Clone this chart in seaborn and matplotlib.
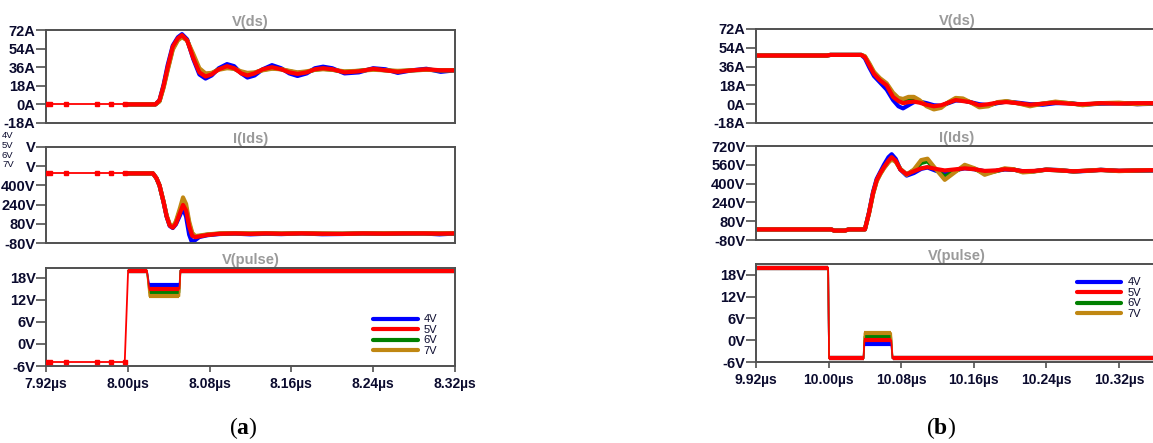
import numpy as np
import pandas as pd
import matplotlib
matplotlib.use("Agg")
import matplotlib.pyplot as plt
from matplotlib.lines import Line2D
import seaborn as sns

sns.set_theme(style="white")
plt.rcParams["font.family"] = ["Liberation Sans", "DejaVu Sans"]
plt.rcParams["mathtext.fontset"] = "custom"
plt.rcParams["mathtext.rm"] = "Liberation Serif"
plt.rcParams["mathtext.bf"] = "Liberation Serif:bold"

# ---------------------------------------------------------------- series
GATE_LEVELS = ["4V", "5V", "6V", "7V"]
GATE_COLORS = ["#0000ff", "#ff0000", "#008000", "#c08712"]

# ---- (a) turn-on transient
A_XTICKS = [7.92, 8.00, 8.08, 8.16, 8.24, 8.32]
A_XLABELS = ["7.92µs", "8.00µs", "8.08µs", "8.16µs", "8.24µs", "8.32µs"]

A_LEAD_T = [7.920, 7.924, 7.940, 7.970, 7.984, 7.997]
A_LEAD_VDS = [0, 0, 0, 0, 0, 0]
A_LEAD_IDS = [500, 500, 500, 500, 500, 500]
A_LEAD_PULSE = [-5, -5, -5, -5, -5, -5]
A_EDGE_T = [7.997, 8.0003]
A_EDGE_PULSE = [-5, 20]

A_VDS_T = [7.997, 8.027, 8.031, 8.035, 8.039, 8.044, 8.049, 8.053, 8.058, 8.064,
           8.070, 8.076, 8.082, 8.089, 8.097, 8.104, 8.111, 8.117, 8.124, 8.132,
           8.141, 8.150, 8.158, 8.166, 8.175, 8.183, 8.191, 8.200, 8.212, 8.226,
           8.240, 8.252, 8.264, 8.278, 8.292, 8.306, 8.320]
A_VDS_4V = [0, 0, 4, 19, 38, 57, 65, 68, 63, 44,
            29, 25, 28, 35, 39, 37, 30, 26, 28, 34,
            38, 35, 30, 27.5, 30, 35, 36.5, 35, 30, 31,
            35, 34, 30.5, 33, 34.5, 31.5, 33]
A_VDS_5V = [0, 0, 4, 18, 36, 56, 64, 67, 62, 45,
            31, 27, 29, 34, 37, 35, 30, 28, 30, 34,
            36, 34, 31, 29.5, 31, 34, 35, 34, 31, 32,
            34.5, 33, 31.5, 33, 34, 33, 33]
A_VDS_6V = [0, 0, 3, 17, 34, 54, 63, 66, 62, 47,
            33, 28.5, 30, 34, 36, 34.5, 31, 29.5, 30.5, 33.5,
            35, 34, 32, 30.5, 31.5, 33.5, 34.5, 33.5, 31.5, 32.5,
            34, 33, 32, 33, 33.5, 33, 33]
A_VDS_7V = [0, 0, 3, 16, 33, 53, 62, 65, 62, 49,
            35, 30, 30.5, 33.5, 35, 34.5, 32, 30.5, 31, 33,
            34.5, 34, 32.5, 31, 32, 33.5, 34, 33.5, 32, 32.5,
            33.5, 33, 32.5, 33, 33.5, 33, 33]

A_IDS_T = [7.997, 8.0246, 8.028, 8.031, 8.035, 8.038, 8.041, 8.044, 8.047, 8.051,
           8.054, 8.057, 8.060, 8.063, 8.066, 8.070, 8.078, 8.090, 8.105, 8.120,
           8.135, 8.150, 8.170, 8.190, 8.210, 8.230, 8.250, 8.270, 8.290, 8.305,
           8.320]
A_IDS_4V = [500, 500, 460, 400, 260, 140, 62, 45, 75, 150,
            210, 140, -10, -80, -55, -30, -15, -5, -2, -8,
            -3, -6, 0, -7, -5, -1, -4, -2, -1, -8,
            -1]
A_IDS_5V = [500, 500, 460, 400, 260, 140, 65, 48, 80, 170,
            237, 190, 60, -20, -32, -25, -13, -3, 0, -4,
            0, -3, 0, -3, -4, 0, -2, 0, 0, -2,
            0]
A_IDS_6V = [500, 500, 460, 400, 262, 145, 70, 52, 90, 190,
            265, 215, 80, -5, -28, -22, -10, -2, 1, -2,
            1, -2, 1, -2, -3, 0, -1, 0, 0, -1,
            0]
A_IDS_7V = [500, 500, 462, 402, 265, 150, 75, 55, 100, 210,
            300, 245, 100, 5, -22, -18, -8, 0, 2, 0,
            2, -1, 2, -1, -2, 1, 0, 1, 1, 0,
            1]

A_PULSE_T = [8.0003, 8.0187, 8.0210, 8.0505, 8.0515, 8.320]
A_PULSE_4V = [20, 20, 16, 16, 20, 20]
A_PULSE_5V = [20, 20, 15, 15, 20, 20]
A_PULSE_6V = [20, 20, 14, 14, 20, 20]
A_PULSE_7V = [20, 20, 13, 13, 20, 20]

# ---- (b) turn-off transient
B_XTICKS = [9.92, 10.00, 10.08, 10.16, 10.24, 10.32]
B_XLABELS = ["9.92µs", "10.00µs", "10.08µs", "10.16µs", "10.24µs", "10.32µs"]

B_VDS_T = [9.920, 9.998, 10.002, 10.036, 10.040, 10.045, 10.050, 10.0565, 10.064, 10.071,
           10.077, 10.082, 10.088, 10.094, 10.100, 10.108, 10.116, 10.124, 10.132, 10.140,
           10.148, 10.156, 10.166, 10.176, 10.186, 10.196, 10.208, 10.222, 10.236, 10.250,
           10.265, 10.280, 10.300, 10.320, 10.340, 10.363]
B_VDS_4V = [46.6, 46.6, 47.2, 47.2, 44, 35, 27, 21, 14, 4,
            -2, -4, -1, 2, 2.5, 1, -1, -1.5, 1, 3.5,
            3.5, 2, 0, -1, 1, 2.5, 1.5, 0, -0.5, 1,
            1, -0.5, 0.5, 1, 0, 0.5]
B_VDS_5V = [46.6, 46.6, 47.2, 47.2, 45, 37, 29, 23, 18, 7,
            3, 1, 2, 2.5, 1.5, -0.5, -2, -1, 1.5, 4,
            3, 2, -1, 0, 1.5, 2, 1, -0.5, 0.5, 1.5,
            0.5, 0, 1, 0.5, 1, 1]
B_VDS_6V = [46.6, 46.6, 47.2, 47.2, 45.5, 38, 30, 24, 19, 9,
            5, 3, 4.5, 5, 3, -1, -3, -2, 1.5, 4.5,
            4, 2, -1.5, -1, 1.5, 2.5, 1, -1, 0.5, 2,
            1, -0.5, 1, 1, 0.5, 1]
B_VDS_7V = [46.6, 46.6, 47.2, 47.2, 46, 39, 31, 25, 20, 11,
            6, 5, 7, 7, 4, -2, -5, -3.5, 2, 6,
            5.5, 2, -3, -2, 2, 3, 1, -2, 0.5, 2.5,
            1, -1, 1, 1.5, 0, 1]

B_IDS_T = [9.920, 10.003, 10.006, 10.018, 10.022, 10.040, 10.0445, 10.049, 10.053, 10.057,
           10.061, 10.066, 10.0695, 10.074, 10.079, 10.086, 10.094, 10.102, 10.109, 10.118,
           10.128, 10.138, 10.150, 10.161, 10.172, 10.184, 10.194, 10.204, 10.214, 10.226,
           10.240, 10.255, 10.270, 10.285, 10.300, 10.320, 10.340, 10.363]
B_IDS_4V = [10, 10, 0, 0, 10, 10, 155, 330, 440, 500,
            560, 625, 650, 610, 520, 468, 490, 525, 537, 510,
            492, 512, 530, 522, 505, 508, 520, 518, 505, 505,
            520, 515, 502, 508, 518, 508, 510, 512]
B_IDS_5V = [10, 10, 0, 0, 10, 10, 150, 320, 430, 490,
            540, 595, 625, 595, 520, 480, 505, 530, 540, 525,
            512, 520, 530, 522, 508, 512, 522, 518, 506, 508,
            518, 512, 505, 510, 515, 510, 512, 515]
B_IDS_6V = [10, 10, 0, 0, 10, 10, 148, 315, 425, 485,
            535, 585, 612, 590, 525, 478, 515, 575, 590, 520,
            460, 500, 545, 525, 485, 505, 525, 520, 500, 505,
            518, 512, 504, 510, 516, 508, 512, 514]
B_IDS_7V = [10, 10, 0, 0, 10, 10, 145, 310, 420, 480,
            530, 580, 605, 585, 525, 475, 520, 600, 612, 525,
            432, 490, 560, 530, 475, 505, 530, 522, 495, 502,
            520, 514, 503, 510, 518, 506, 512, 516]

B_PULSE_T = [9.920, 9.9995, 10.0005, 10.0385, 10.0395, 10.069, 10.0705, 10.363]
B_PULSE_4V = [20, 20, -5, -5, -1, -1, -5, -5]
B_PULSE_5V = [20, 20, -5, -5, 0, 0, -5, -5]
B_PULSE_6V = [20, 20, -5, -5, 1, 1, -5, -5]
B_PULSE_7V = [20, 20, -5, -5, 2, 2, -5, -5]

# axis scales
VDS_TICKS = [-18, 0, 18, 36, 54, 72]
VDS_LABELS = ["-18A", "0A", "18A", "36A", "54A", "72A"]
IDS_TICKS = [-80, 80, 240, 400, 560, 720]
IDS_LABELS = ["-80V", "80V", "240V", "400V", "560V", "720V"]
# in (a) the trace names sit over the two upper labels, leaving only the unit
IDS_LABELS_A = ["-80V", "80V", "240V", "400V", "V", "V"]
PULSE_TICKS = [-6, 0, 6, 12, 18]
PULSE_LABELS = ["-6V", "0V", "6V", "12V", "18V"]

# ---------------------------------------------------------------- styling
W, H = 1153, 443
FRAME = "#505050"
TICK_TXT = "#0b0b2e"
TITLE_TXT = "#9a9a9a"
COLOR_OF = dict(zip(GATE_LEVELS, GATE_COLORS))
DRAW_ORDER = ["4V", "6V", "7V", "5V"]
LW_THICK = 3.0

fig = plt.figure(figsize=(W / 100, H / 100), dpi=100)


def px_axes(left, top, right, bottom):
    return fig.add_axes([left / W, 1 - bottom / H, (right - left) / W, (bottom - top) / H])


def long_frame(t, series):
    parts = [pd.DataFrame({"t": t, "v": v, "gate": g}) for g, v in series.items()]
    return pd.concat(parts, ignore_index=True)


def draw_curves(ax, t, series):
    df = long_frame(t, series)
    for g in DRAW_ORDER:
        sns.lineplot(data=df[df["gate"] == g], x="t", y="v", color=COLOR_OF[g],
                     lw=LW_THICK, estimator=None, sort=False, legend=False, ax=ax)


def draw_steps(ax, t, series):
    df = long_frame(t, series)
    for g in DRAW_ORDER:
        sub = df[df["gate"] == g].reset_index(drop=True)
        # thin outline including the switching edges
        sns.lineplot(data=sub, x="t", y="v", color=COLOR_OF[g], lw=1.2,
                     estimator=None, sort=False, legend=False, ax=ax)
        # flat stretches drawn heavy
        seg = (sub["v"].diff().fillna(0) != 0).cumsum()
        for _, part in sub.groupby(seg):
            if len(part) > 1:
                ax.plot(part["t"], part["v"], color=COLOR_OF[g], lw=LW_THICK,
                        solid_capstyle="butt")


def draw_lead(ax, t, v):
    ax.plot(t, v, color="#ff0000", lw=1.3, marker="s", ms=2.2, zorder=3)


def style(ax, title, xlim, ylim, yticks, ylabels, xticks=None, xlabels=None):
    ax.set_xlim(xlim)
    ax.set_ylim(ylim)
    ax.set_yticks(yticks)
    ax.set_yticklabels(ylabels)
    if xticks is None:
        ax.set_xticks([])
    else:
        ax.set_xticks(xticks)
        ax.set_xticklabels(xlabels)
    ax.set_xlabel("")
    ax.set_ylabel("")
    for s in ax.spines.values():
        s.set_visible(True)
        s.set_color(FRAME)
        s.set_linewidth(1.4)
    ax.tick_params(axis="y", left=True, direction="out", length=7, width=1.2,
                   color=FRAME, pad=0.5, labelsize=10.5, labelcolor=TICK_TXT)
    ax.tick_params(axis="x", bottom=True, direction="out", length=4.5, width=1.2,
                   color=FRAME, pad=3.5, labelsize=10, labelcolor=TICK_TXT)
    for lab in ax.get_yticklabels() + ax.get_xticklabels():
        lab.set_fontweight("bold")
    ax.set_title(title, fontsize=10.5, fontweight="bold", color=TITLE_TXT, pad=3)
    ax.set_facecolor("white")


def gate_legend(ax, anchor):
    handles = [Line2D([], [], color=c, lw=3.0) for c in GATE_COLORS]
    ax.legend(handles, GATE_LEVELS, loc="upper left", bbox_to_anchor=anchor,
              frameon=False, fontsize=8, handlelength=4.0, handleheight=0.5,
              handletextpad=0.55, labelspacing=0.05, borderpad=0,
              borderaxespad=0, labelcolor=TICK_TXT)


def pack(a, b, c, d):
    return dict(zip(GATE_LEVELS, [a, b, c, d]))


# ---------------------------------------------------------------- (a)
A_XLIM = (7.92, 8.32)
ax = px_axes(46, 30, 455, 123)
draw_lead(ax, A_LEAD_T, A_LEAD_VDS)
draw_curves(ax, A_VDS_T, pack(A_VDS_4V, A_VDS_5V, A_VDS_6V, A_VDS_7V))
style(ax, "V(ds)", A_XLIM, (-18, 72), VDS_TICKS, VDS_LABELS)

ax = px_axes(46, 147, 455, 243)
draw_lead(ax, A_LEAD_T, A_LEAD_IDS)
draw_curves(ax, A_IDS_T, pack(A_IDS_4V, A_IDS_5V, A_IDS_6V, A_IDS_7V))
style(ax, "I(Ids)", A_XLIM, (-80, 720), IDS_TICKS, IDS_LABELS_A)

ax = px_axes(46, 268, 455, 366)
draw_lead(ax, A_LEAD_T, A_LEAD_PULSE)
ax.plot(A_EDGE_T, A_EDGE_PULSE, color="#ff0000", lw=1.3)
draw_steps(ax, A_PULSE_T, pack(A_PULSE_4V, A_PULSE_5V, A_PULSE_6V, A_PULSE_7V))
style(ax, "V(pulse)", A_XLIM, (-6, 20.7), PULSE_TICKS, PULSE_LABELS, A_XTICKS, A_XLABELS)
gate_legend(ax, (0.80, 0.53))

# ---------------------------------------------------------------- (b)
B_XLIM = (9.92, 10.363)
ax = px_axes(756, 29, 1158, 123)
draw_curves(ax, B_VDS_T, pack(B_VDS_4V, B_VDS_5V, B_VDS_6V, B_VDS_7V))
style(ax, "V(ds)", B_XLIM, (-18, 72), VDS_TICKS, VDS_LABELS)

ax = px_axes(756, 146, 1158, 240)
draw_curves(ax, B_IDS_T, pack(B_IDS_4V, B_IDS_5V, B_IDS_6V, B_IDS_7V))
style(ax, "I(Ids)", B_XLIM, (-80, 720), IDS_TICKS, IDS_LABELS)

ax = px_axes(756, 264, 1158, 362)
draw_steps(ax, B_PULSE_T, pack(B_PULSE_4V, B_PULSE_5V, B_PULSE_6V, B_PULSE_7V))
style(ax, "V(pulse)", B_XLIM, (-6, 21.0), PULSE_TICKS, PULSE_LABELS, B_XTICKS, B_XLABELS)
gate_legend(ax, (0.7985, 0.865))

# ---------------------------------------------------------------- trace names at the left edge
for name, y in zip(GATE_LEVELS, [136, 145.5, 155, 164.5]):
    fig.text(2 / W, 1 - y / H, name, fontsize=6.8, color=TICK_TXT, va="center",
             ha="left")

# ---------------------------------------------------------------- captions
fig.text(243 / W, 1 - 428 / H, r"$\mathrm{(}\mathbf{a}\mathrm{)}$", fontsize=17,
         ha="center", va="center", color="black")
fig.text(941 / W, 1 - 428 / H, r"$\mathrm{(}\mathbf{b}\mathrm{)}$", fontsize=17,
         ha="center", va="center", color="black")

fig.savefig("out.png", dpi=100, facecolor="white")
